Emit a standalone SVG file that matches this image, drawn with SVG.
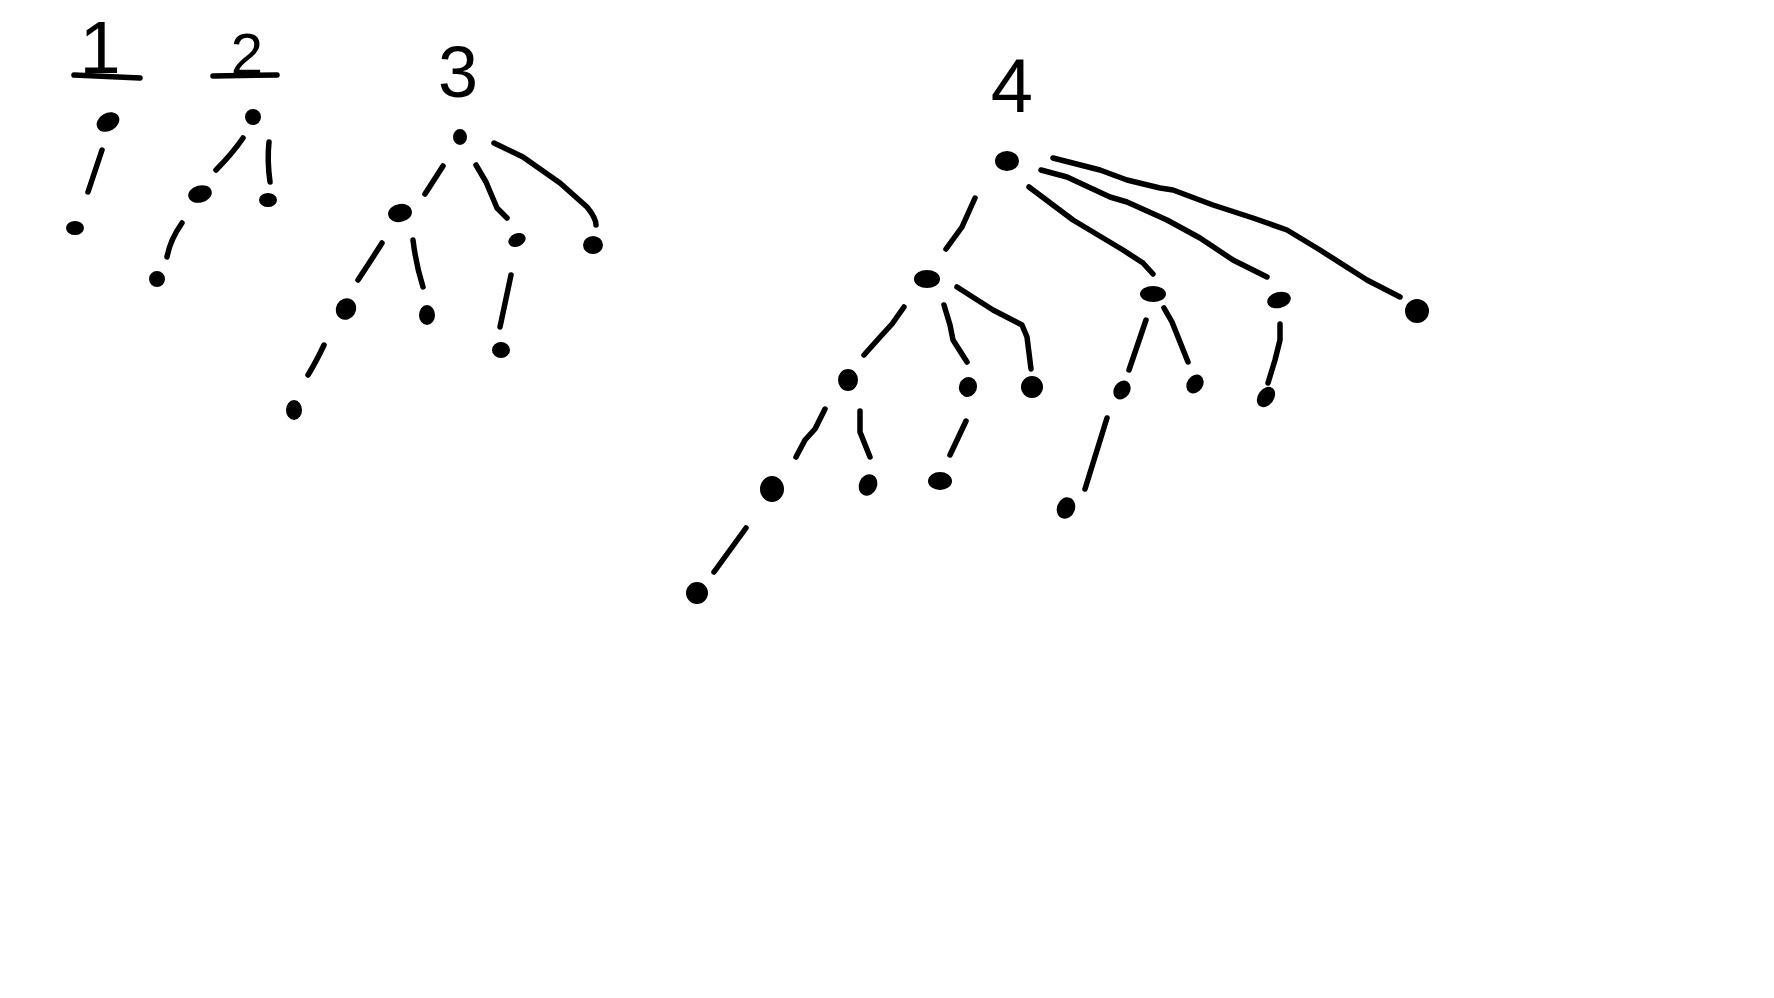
<svg xmlns="http://www.w3.org/2000/svg" width="1774" height="998" viewBox="0 0 1774 998">
<style>
.e{fill:none;stroke:#000;stroke-width:5.5;stroke-linecap:round;stroke-linejoin:round}
.n{fill:#000;stroke:#000;stroke-width:4;stroke-linejoin:round}
.t{font-family:"Liberation Sans",Arial,sans-serif;fill:#000;text-anchor:middle}
.u{stroke:#000;stroke-width:5.5;stroke-linecap:round}
</style>
<rect width="1774" height="998" fill="#fff"/>
<g id="labels">
  <g id="label-1"><text class="t" x="100" y="73" font-size="74">1</text><line class="u" x1="74" y1="75" x2="140" y2="78"/></g>
  <g id="label-2"><text class="t" x="247" y="74" font-size="58">2</text><line class="u" x1="213" y1="76" x2="277" y2="75"/></g>
  <g id="label-3"><text class="t" x="458" y="97" font-size="72">3</text></g>
  <g id="label-4"><text class="t" x="1012" y="112" font-size="76">4</text></g>
</g>
<g id="connectors">
  <path class="e" d="M102,150 L88,192"/>
  <path class="e" d="M243,138 Q232,154 216,170"/>
  <path class="e" d="M269,142 Q267,160 270,182"/>
  <path class="e" d="M182,223 Q170,240 167,257"/>
  <path class="e" d="M443,166 L425,194"/>
  <path class="e" d="M476,165 L486,182 L497,208 L507,218"/>
  <path class="e" d="M494,143 L523,157 L560,183 L587,207 Q596,218 596,225"/>
  <path class="e" d="M382,243 Q370,262 358,280"/>
  <path class="e" d="M413,240 Q416,265 423,287"/>
  <path class="e" d="M324,345 Q316,362 308,375"/>
  <path class="e" d="M511,275 L500,327"/>
  <path class="e" d="M975,198 L962,227 L946,249"/>
  <path class="e" d="M1029,187 L1073,220 L1123,250 L1143,263 L1153,274"/>
  <path class="e" d="M1041,170 L1067,177 L1110,197 L1127,202 L1167,220 L1200,238 L1233,260 L1267,277"/>
  <path class="e" d="M1053,158 L1100,170 L1127,180 L1160,188 L1173,190 L1213,205 L1253,218 L1287,230 L1320,250 L1367,280 L1400,297"/>
  <path class="e" d="M904,307 L892,324 L881,336 L864,355"/>
  <path class="e" d="M944,305 L950,325 L953,340 L967,362"/>
  <path class="e" d="M957,287 L993,310 L1022,325 L1027,337 L1031,369"/>
  <path class="e" d="M825,409 L815,429 L805,440 L796,457"/>
  <path class="e" d="M860,411 L860,432 L870,457"/>
  <path class="e" d="M966,421 L950,455"/>
  <path class="e" d="M746,528 L730,550 L714,572"/>
  <path class="e" d="M1146,320 L1129,370"/>
  <path class="e" d="M1164,308 L1172,322 L1188,362"/>
  <path class="e" d="M1107,418 L1085,489"/>
  <path class="e" d="M1280,324 L1280,340 L1275,360 L1268,383"/>
</g>
<g id="tree1-root"><ellipse class="n" cx="108" cy="122" rx="10" ry="7" transform="rotate(-30 108 122)"/></g>
<g id="tree1-c1"><ellipse class="n" cx="75" cy="228" rx="7" ry="5"/></g>
<g id="tree2-root"><ellipse class="n" cx="253" cy="117" rx="6" ry="6"/></g>
<g id="tree2-l"><ellipse class="n" cx="200" cy="194" rx="10" ry="6.5" transform="rotate(-15 200 194)"/></g>
<g id="tree2-r"><ellipse class="n" cx="268" cy="200" rx="7" ry="5"/></g>
<g id="tree2-ll"><ellipse class="n" cx="157" cy="279" rx="6" ry="6"/></g>
<g id="tree3-root"><ellipse class="n" cx="460" cy="137" rx="5" ry="6"/></g>
<g id="tree3-a"><ellipse class="n" cx="400" cy="213" rx="10" ry="7" transform="rotate(-10 400 213)"/></g>
<g id="tree3-b"><ellipse class="n" cx="517" cy="240" rx="7" ry="4.5" transform="rotate(-25 517 240)"/></g>
<g id="tree3-c"><ellipse class="n" cx="593" cy="245" rx="8" ry="7"/></g>
<g id="tree3-aa"><ellipse class="n" cx="346" cy="309" rx="8" ry="9" transform="rotate(30 346 309)"/></g>
<g id="tree3-ab"><ellipse class="n" cx="427" cy="315" rx="6" ry="8"/></g>
<g id="tree3-ba"><ellipse class="n" cx="501" cy="350" rx="7" ry="6"/></g>
<g id="tree3-aaa"><ellipse class="n" cx="294" cy="410" rx="6" ry="8"/></g>
<g id="tree4-root"><ellipse class="n" cx="1007" cy="161" rx="10" ry="8"/></g>
<g id="tree4-a"><ellipse class="n" cx="927" cy="279" rx="11" ry="7"/></g>
<g id="tree4-b"><ellipse class="n" cx="1153" cy="294" rx="11" ry="6"/></g>
<g id="tree4-c"><ellipse class="n" cx="1279" cy="300" rx="10" ry="6" transform="rotate(-15 1279 300)"/></g>
<g id="tree4-d"><ellipse class="n" cx="1417" cy="311" rx="10" ry="10"/></g>
<g id="tree4-aa"><ellipse class="n" cx="848" cy="380" rx="8" ry="9"/></g>
<g id="tree4-ab"><ellipse class="n" cx="968" cy="387" rx="7" ry="8" transform="rotate(20 968 387)"/></g>
<g id="tree4-ac"><ellipse class="n" cx="1032" cy="387" rx="9" ry="9"/></g>
<g id="tree4-ba"><ellipse class="n" cx="1122" cy="390" rx="6" ry="8" transform="rotate(35 1122 390)"/></g>
<g id="tree4-bb"><ellipse class="n" cx="1195" cy="384" rx="6" ry="8" transform="rotate(35 1195 384)"/></g>
<g id="tree4-ca"><ellipse class="n" cx="1266" cy="397" rx="6" ry="9" transform="rotate(35 1266 397)"/></g>
<g id="tree4-aaa"><ellipse class="n" cx="772" cy="489" rx="10" ry="11"/></g>
<g id="tree4-aab"><ellipse class="n" cx="868" cy="485" rx="7" ry="9" transform="rotate(25 868 485)"/></g>
<g id="tree4-aba"><ellipse class="n" cx="940" cy="481" rx="10" ry="7"/></g>
<g id="tree4-baa"><ellipse class="n" cx="1066" cy="508" rx="7" ry="9" transform="rotate(20 1066 508)"/></g>
<g id="tree4-aaaa"><ellipse class="n" cx="697" cy="593" rx="9" ry="9"/></g>
</svg>
